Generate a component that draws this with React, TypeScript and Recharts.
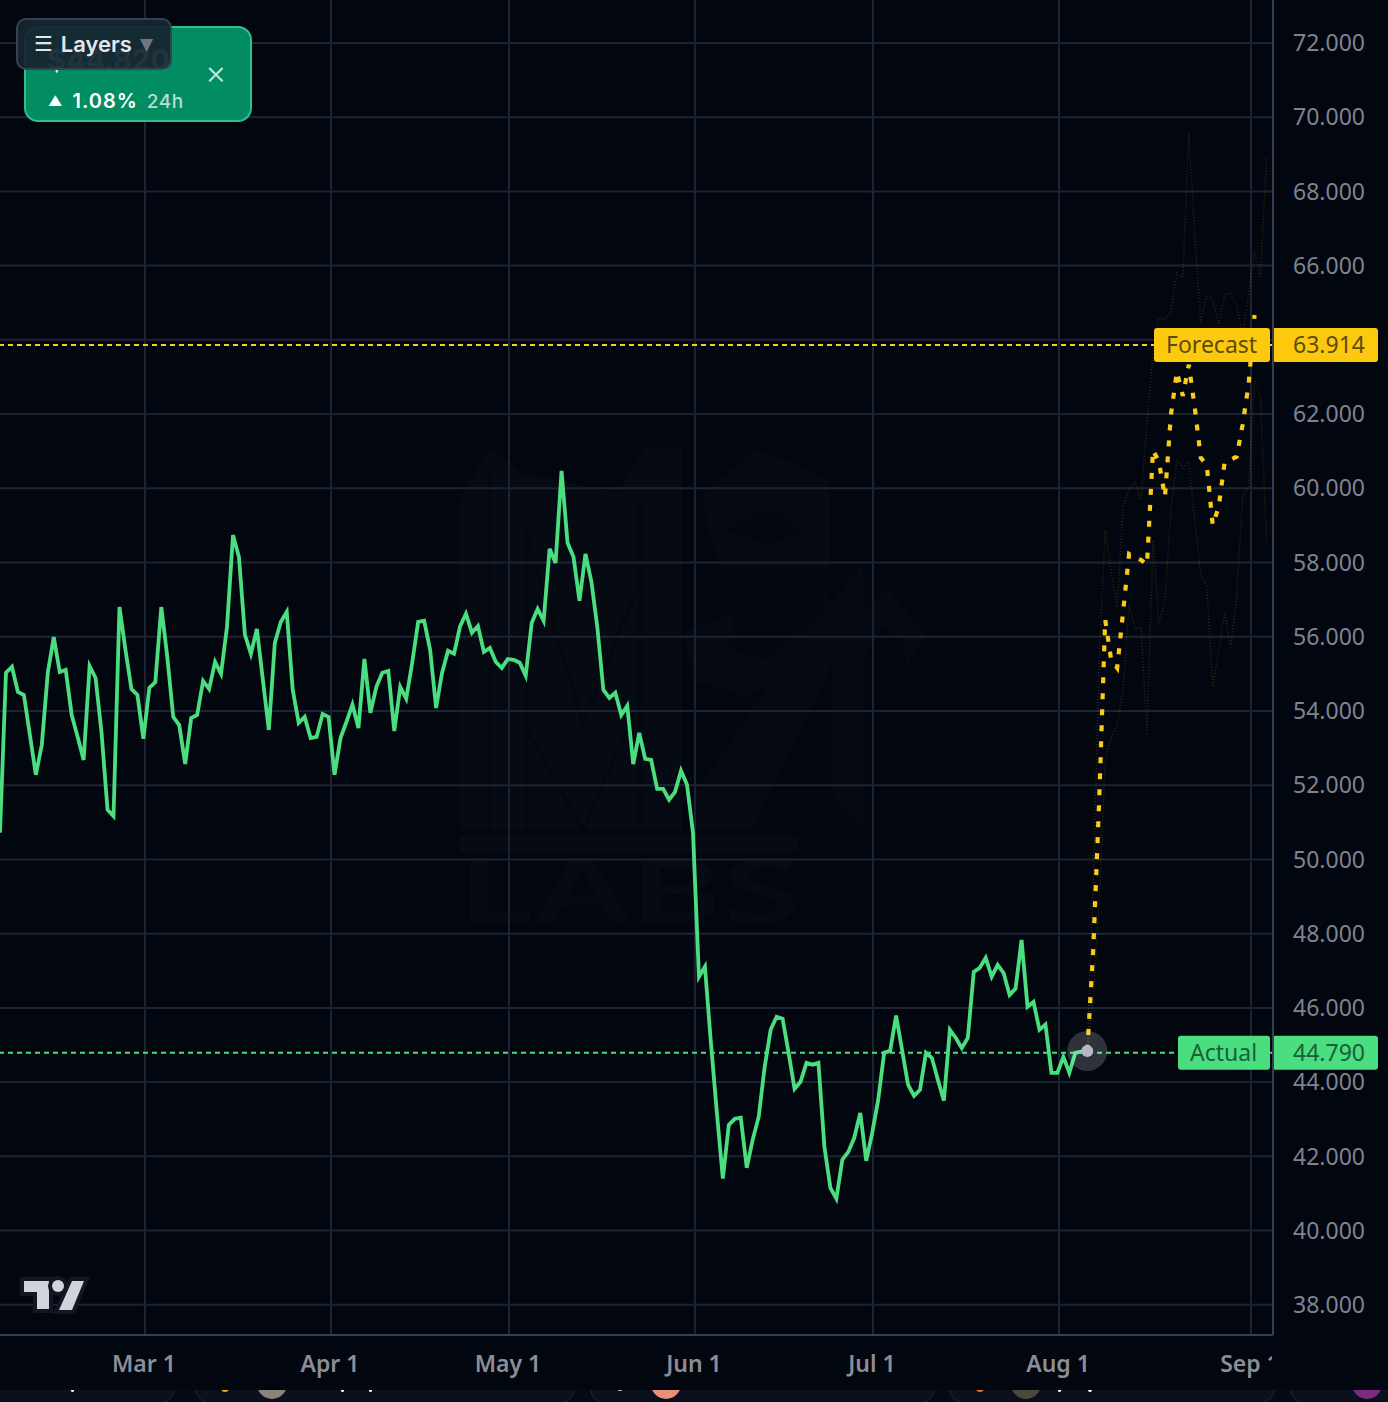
import { CartesianGrid, Line, LineChart, ReferenceDot, ReferenceLine, XAxis, YAxis } from "recharts";

const FONT = '"Noto Sans", "Open Sans", sans-serif';
const UI_FONT = "Inter, sans-serif";

// bars are daily, the scale runs bar 0 at the left edge of the plot
const actualValues = [
  50.72, 55.03, 55.19, 54.51, 54.43, 53.36, 52.28, 53.09, 55.03, 55.99,
  55.05, 55.11, 53.89, 53.3, 52.68, 55.21, 54.89, 53.41, 51.34, 51.17,
  56.8, 55.65, 54.59, 54.43, 53.25, 54.62, 54.78, 56.8, 55.46, 53.84,
  53.62, 52.57, 53.81, 53.89, 54.81, 54.59, 55.32, 55.0, 56.27, 58.74,
  58.15, 56.05, 55.54, 56.21, 54.84, 53.49, 55.83, 56.4, 56.67, 54.57,
  53.68, 53.84, 53.27, 53.3, 53.92, 53.84, 52.28, 53.27, 53.71,
  54.17, 53.54, 55.4, 53.95, 54.65, 55.03, 55.08, 53.46, 54.65, 54.33,
  55.3, 56.4, 56.43, 55.65, 54.08, 55.03, 55.62, 55.54, 56.27, 56.62,
  56.11, 56.29, 55.59, 55.7, 55.32, 55.16, 55.4, 55.38, 55.3, 54.95,
  56.37, 56.75, 56.43, 58.37, 57.99, 60.47, 58.53, 58.15, 56.97, 58.23,
  57.48, 56.24, 54.57, 54.35, 54.49, 53.89, 54.14, 52.57, 53.41, 52.71,
  52.68, 51.9, 51.9, 51.61, 51.82, 52.39, 52.01, 50.72,
  46.84, 47.11, 45.06, 43.17, 41.4, 42.85, 43.01, 43.04, 41.69, 42.45,
  43.07, 44.41, 45.41, 45.76, 45.71, 44.79, 43.82, 44.01, 44.52, 44.47,
  44.52, 42.26, 41.15, 40.86, 41.91, 42.12, 42.5, 43.17, 41.88, 42.63,
  43.52, 44.79, 44.84, 45.79, 44.87, 43.93, 43.63, 43.79, 44.79, 44.65,
  44.06, 43.5, 45.41, 45.19, 44.92, 45.19, 46.97, 47.08, 47.35, 46.84,
  47.16, 46.94, 46.35, 46.52, 47.83, 46.03, 46.16, 45.41, 45.55, 44.25,
  44.25, 44.68, 44.25, 44.79, 44.82, 44.84,
];

const forecastStartBar = 182;
const forecastValues = [
  44.84, 47.56, 51.61, 56.46, 55.38, 55.16, 56.67, 58.23, 58.13, 58.07,
  57.94, 61.03, 60.71, 59.77, 61.98, 63.14, 62.49, 63.33, 62.17, 60.82,
  60.63, 59.01, 59.5, 60.71, 60.77, 60.85, 61.71, 62.79, 64.67,
];
const forecastUpperValues = [
  44.84, 49.44, 55.38, 58.88, 57.75, 56.77, 59.5, 59.96, 60.17, 59.69,
  61.84, 63.65, 64.6, 64.55, 64.76, 65.8, 65.67, 69.57, 66.82, 64.46,
  65.21, 65.07, 64.41, 65.21, 65.27, 64.94, 64.14, 65.21, 66.42, 65.67,
  68.93,
];
const forecastLowerValues = [
  44.84, 46.22, 48.91, 52.67, 53.28, 53.63, 54.57, 56.86, 56.19, 56.27,
  53.36, 58.6, 56.37, 56.99, 59.42, 60.76, 60.55, 60.71, 59.15, 57.67,
  57.34, 54.65, 55.65, 56.64, 55.73, 57.07, 59.77, 60.04, 62.92, 62.46,
  58.53,
];

const priceTicks = [38, 40, 42, 44, 46, 48, 50, 52, 54, 56, 58, 60, 62, 64, 66, 68, 70, 72];
// the forecast tag sits on top of this tick in the reference, its label never shows
const hiddenPriceTick = 64;
const monthLabels = ["Mar 1", "Apr 1", "May 1", "Jun 1", "Jul 1", "Aug 1", "Sep 1"];
const monthBars = [24.27, 55.41, 85.2, 116.33, 146.13, 177.27, 209.4];

const actualPrice = 44.79;
const forecastLinePrice = 63.86;

const chartRows = Array.from({ length: 213 }, (_, bar) => ({
  bar,
  actual: actualValues[bar] ?? null,
  forecast: forecastValues[bar - forecastStartBar] ?? null,
  upper: forecastUpperValues[bar - forecastStartBar] ?? null,
  lower: forecastLowerValues[bar - forecastStartBar] ?? null,
}));

function MonthTick({ x, payload }: any) {
  const label = monthLabels[monthBars.indexOf(payload.value)];
  // nested svg cuts the last label off at the price scale
  return (
    <svg x={0} y={1335} width={1272} height={55}>
      <text
        x={x - 1}
        y={37}
        textAnchor="middle"
        fill="#8b8e99"
        fontSize={23}
        fontWeight={600}
        fontFamily={FONT}
      >
        {label}
      </text>
    </svg>
  );
}

function PriceTag({ viewBox, name, price, left, fill, ink }: any) {
  const top = viewBox.y - 17;
  return (
    <g>
      <rect x={left} y={top} width={1270 - left} height={34} rx={3} fill={fill} />
      <rect x={1272} y={top} width={106} height={34} rx={3} fill={fill} />
      <text x={left + 12} y={top + 25} fontSize={23} fontFamily={FONT} fill={ink}>
        {name}
      </text>
      <text x={1293} y={top + 25} fontSize={23} fontFamily={FONT} fill={ink}>
        {price}
      </text>
    </g>
  );
}

function Watermark() {
  const fill = "#060a13";
  const cut = "#03070f";
  return (
    <svg width={1388} height={1390} style={{ position: "absolute", left: 0, top: 0 }}>
      <polygon fill={fill} points="460,497 490,448 523,473 617,493 643,448 682,448 682,830 460,830" />
      <polyline fill="none" stroke={cut} strokeWidth={3} points="490,470 490,830" />
      <polyline fill="none" stroke={cut} strokeWidth={3} points="527,530 527,830" />
      <polyline fill="none" stroke={cut} strokeWidth={3} points="527,535 583,723 640,580" />
      <polyline fill="none" stroke={cut} strokeWidth={3} points="527,730 583,830 640,700" />
      <polyline fill="none" stroke={cut} strokeWidth={3} points="640,500 640,830" />
      <polygon fill="#050912" points="703,493 757,448 830,480 830,563 827,617 783,677 747,697 693,680 683,630 737,613 707,530" />
      <polygon fill={cut} points="716,570 830,570 822,610 770,660 730,650 735,610" />
      <polygon fill={cut} points="725,530 770,508 800,530 770,545" />
      <polygon fill="#050912" points="863,563 863,830 833,797 833,663 753,830 690,830 690,800 800,640" />
      <polygon fill="#050912" points="887,587 927,637 905,667 905,643 883,627 863,657 863,613" />
      <rect x={460} y={836} width={338} height={16} fill={fill} />
      <text
        x={458}
        y={922}
        fontSize={88}
        fontFamily={FONT}
        fontWeight={600}
        fill={fill}
        textLength={342}
        lengthAdjust="spacingAndGlyphs"
      >
        LABS
      </text>
    </svg>
  );
}

function TvLogo() {
  return (
    <svg
      width={100}
      height={60}
      style={{ position: "absolute", left: 10, top: 1265 }}
    >
      <g fill="#d1d4dc" stroke="#131722" strokeWidth={8} paintOrder="stroke" strokeLinejoin="miter">
        <polygon points="14,16 39,16 39,44 27,44 27,27 14,27" />
        <circle cx={48} cy={21} r={6} />
        <polygon points="62,16 74,16 62,45 49,45" />
      </g>
    </svg>
  );
}

const bottomCards = [
  [-40, 215],
  [195, 380],
  [590, 345],
  [949, 326],
  [1290, 200],
];
const bottomDots = [
  [272, 1384, 15, "#8a8378"],
  [666, 1384, 15, "#e8907a"],
  [1026, 1384, 15, "#4a4a3a"],
  [1367, 1384, 15, "#7c2d82"],
  [225, 1388, 4, "#f5a623"],
  [980, 1388, 4, "#f97316"],
  [620, 1388, 3, "#c8ccd4"],
  [342, 1390, 1.5, "#ffffff"],
  [370, 1390, 1.5, "#ffffff"],
  [1059, 1390, 1.5, "#ffffff"],
  [1090, 1390, 2, "#ffffff"],
  [72, 1390, 1.5, "#ffffff"],
];

function BottomStrip() {
  return (
    <div
      style={{
        position: "absolute",
        left: 0,
        top: 1390,
        width: 1388,
        height: 12,
        background: "#060a16",
        overflow: "hidden",
      }}
    >
      {bottomCards.map(([left, width]) => (
        <div
          key={left}
          style={{
            position: "absolute",
            left,
            top: -40,
            width,
            height: 54,
            boxSizing: "border-box",
            background: "#0b101f",
            border: "1.5px solid #1e2838",
            borderRadius: 16,
          }}
        />
      ))}
      {bottomDots.map(([cx, cy, r, color]: any) => (
        <div
          key={cx}
          style={{
            position: "absolute",
            left: cx - r,
            top: cy - r - 1390,
            width: r * 2,
            height: r * 2,
            borderRadius: "50%",
            background: color,
          }}
        />
      ))}
    </div>
  );
}

function Overlays() {
  return (
    <>
      <div
        style={{
          position: "absolute",
          left: 24,
          top: 26,
          width: 228,
          height: 96,
          boxSizing: "border-box",
          background: "#028c61",
          border: "2px solid #2fbf8a",
          borderRadius: 14,
          color: "#fff",
          fontFamily: UI_FONT,
        }}
      >
        <div style={{ position: "absolute", left: 21, top: 14, fontSize: 29, fontWeight: 700 }}>$44.820</div>
        <div style={{ position: "absolute", left: 22, top: 61, fontSize: 20, fontWeight: 600, letterSpacing: 1 }}>
          <span style={{ fontSize: 14, marginRight: 9, position: "relative", top: -2 }}>▲</span>
          1.08%
          <span style={{ marginLeft: 9, fontWeight: 500, fontSize: 19, letterSpacing: 0.5, color: "rgba(255,255,255,0.72)" }}>24h</span>
        </div>
        <div style={{ position: "absolute", left: 179, top: 28, fontSize: 33, fontWeight: 300, color: "rgba(255,255,255,0.78)", lineHeight: 1 }}>×</div>
      </div>
      <div
        style={{
          position: "absolute",
          left: 16,
          top: 18,
          width: 156,
          height: 52,
          boxSizing: "border-box",
          background: "rgba(21,37,48,0.94)",
          border: "2px solid #364152",
          borderRadius: 10,
          color: "#e2e6ee",
          fontFamily: UI_FONT,
          fontSize: 22,
          fontWeight: 600,
          display: "flex",
          alignItems: "center",
          paddingLeft: 16,
          gap: 8,
        }}
      >
        <span style={{ fontFamily: "DejaVu Sans", fontWeight: 700, fontSize: 21 }}>☰</span>
        <span>Layers</span>
        <span style={{ fontFamily: "DejaVu Sans", fontSize: 17, color: "#6f7684" }}>▼</span>
      </div>
    </>
  );
}

export default function App() {
  return (
    <div
      style={{
        position: "absolute",
        left: 0,
        top: 0,
        width: 1388,
        height: 1402,
        overflow: "hidden",
        background: "#02060f",
      }}
    >
      <Watermark />
      <div style={{ position: "absolute", left: 0, top: 0 }}>
        <LineChart width={1388} height={1390} data={chartRows} margin={{ top: 0, right: 0, bottom: 0, left: 0 }}>
          <CartesianGrid stroke="#1c2433" strokeWidth={2} syncWithTicks />
          <XAxis
            dataKey="bar"
            type="number"
            domain={[0, 213.09]}
            ticks={monthBars}
            interval={0}
            height={55}
            allowDataOverflow
            axisLine={{ stroke: "#363f52", strokeWidth: 2 }}
            tickLine={false}
            tick={<MonthTick />}
          />
          <YAxis
            orientation="right"
            type="number"
            domain={[37.186, 73.157]}
            ticks={priceTicks}
            interval={0}
            width={115}
            allowDataOverflow
            axisLine={{ stroke: "#363f52", strokeWidth: 2 }}
            tickLine={false}
            tickMargin={14}
            tick={{ fill: "#7f838f", fontSize: 23, fontFamily: FONT }}
            tickFormatter={(value: number) => (value === hiddenPriceTick ? "" : value.toFixed(3))}
          />
          <Line dataKey="upper" stroke="#facc15" strokeOpacity={0.18} strokeWidth={1.5} strokeDasharray="1 2" dot={false} activeDot={false} isAnimationActive={false} />
          <Line dataKey="lower" stroke="#facc15" strokeOpacity={0.18} strokeWidth={1.5} strokeDasharray="1 2" dot={false} activeDot={false} isAnimationActive={false} />
          <Line dataKey="actual" stroke="#4ade80" strokeWidth={3.8} dot={false} activeDot={false} isAnimationActive={false} />
          <Line dataKey="forecast" stroke="#facc15" strokeWidth={4.2} strokeDasharray="6 10" dot={false} activeDot={false} isAnimationActive={false} />
          <ReferenceDot x={forecastStartBar} y={44.84} r={20} fill="#ffffff" fillOpacity={0.18} stroke="none" />
          <ReferenceDot x={forecastStartBar} y={44.84} r={6} fill="#b4b7c4" stroke="none" />
          <ReferenceLine
            y={forecastLinePrice}
            stroke="#facc15"
            strokeWidth={2}
            strokeDasharray="5 4"
            label={<PriceTag name="Forecast" price="63.914" left={1154} fill="#fcc90f" ink="#5c4c06" />}
          />
          <ReferenceLine
            y={actualPrice}
            stroke="#4ade80"
            strokeWidth={2}
            strokeDasharray="5 4"
            label={<PriceTag name="Actual" price="44.790" left={1178} fill="#4ade80" ink="#17603a" />}
          />
        </LineChart>
      </div>
      <TvLogo />
      <BottomStrip />
      <Overlays />
    </div>
  );
}
